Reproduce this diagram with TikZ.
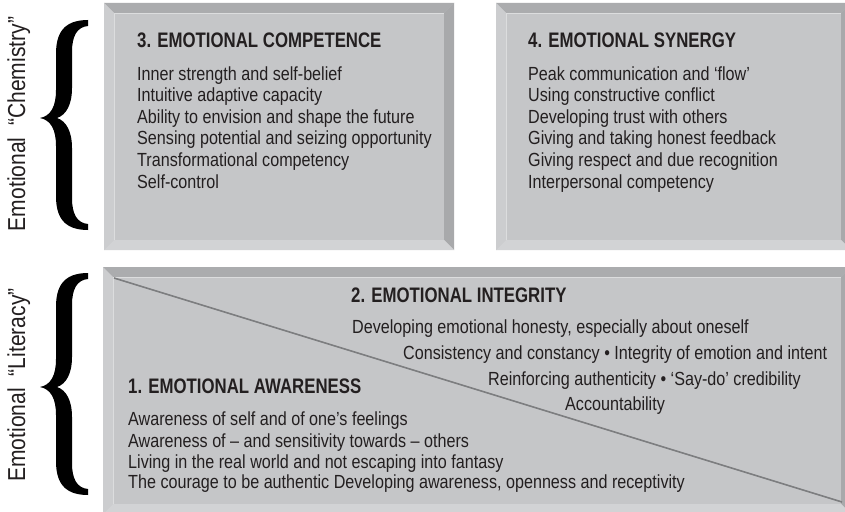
\documentclass[tikz,border=0pt]{standalone}
\usepackage{fontspec}
\setmainfont{Liberation Sans}[FakeStretch=0.85]
\newfontfamily\titlefont{Liberation Sans}[FakeStretch=0.8]
\newfontfamily\sidefont{Liberation Sans}[FakeStretch=0.86]
\definecolor{face}{RGB}{197,198,200}
\definecolor{bevtop}{RGB}{171,172,174}
\definecolor{bevleft}{RGB}{204,205,207}
\definecolor{bevright}{RGB}{168,169,171}
\definecolor{bevbot}{RGB}{210,211,213}
\definecolor{ink}{RGB}{35,31,32}
\definecolor{diag}{RGB}{125,126,128}
\newcommand\bevbox[5]{%
 \fill[face] (#1,#2) rectangle (#3,#4);
 \fill[bevtop] (#1,#2) -- (#3,#2) -- (#3-#5,#2+#5) -- (#1+#5,#2+#5) -- cycle;
 \fill[bevleft] (#1,#2) -- (#1+#5,#2+#5) -- (#1+#5,#4-#5) -- (#1,#4) -- cycle;
 \fill[bevright] (#3,#2) -- (#3-#5,#2+#5) -- (#3-#5,#4-#5) -- (#3,#4) -- cycle;
 \fill[bevbot] (#1,#4) -- (#1+#5,#4-#5) -- (#3-#5,#4-#5) -- (#3,#4) -- cycle;
 \draw[white!40!face, line width=0.7] (#1+#5,#4-#5) -- (#1+#5,#2+#5) -- (#3-#5,#2+#5);
}
\newcommand\mybrace[3]{%
 \fill[black] (88,#1) .. controls (63,#1) and (56,#1+14) .. (56,#1+34)
  -- (56,#2-28) .. controls (56,#2-12) and (51,#2-2) .. (40,#2)
  .. controls (51,#2+2) and (56,#2+12) .. (56,#2+28)
  -- (56,#3-34) .. controls (56,#3-14) and (63,#3) .. (88,#3)
  -- (88,#3-6) .. controls (77,#3-7) and (72,#3-16) .. (72,#3-32)
  -- (72,#2+30) .. controls (72,#2+13) and (66,#2+3) .. (57,#2)
  .. controls (66,#2-3) and (72,#2-13) .. (72,#2-30)
  -- (72,#1+32) .. controls (72,#1+16) and (77,#1+7) .. (88,#1+6) -- cycle;
}
\begin{document}
\begin{tikzpicture}[x=1pt,y=-1pt,
  txt/.style={font=\fontsize{19}{21}\selectfont, text=ink, inner sep=0, anchor=base west},
  ttl/.style={font=\titlefont\bfseries\fontsize{21}{23}\selectfont, text=ink, inner sep=0, anchor=base west},
  side/.style={font=\sidefont\fontsize{24.5}{26}\selectfont, text=ink, inner sep=0, anchor=base, rotate=90}]
\useasboundingbox (0,0) rectangle (845,511);
\fill[white] (0,0) rectangle (845,511);
% boxes
\bevbox{104}{3}{454}{250}{10}
\bevbox{496}{3}{851}{250}{10}
\bevbox{103}{267}{851}{514}{10}
% diagonal
\coordinate (d1) at (114,278);
\coordinate (d2) at (842,502);
\draw[diag, line width=1.6] (d1) -- (d2);
% braces and side labels
\mybrace{20}{118}{230}
\mybrace{273}{387}{495}
\node[side] (chem) at (25,124) {Emotional \ “Chemistry”};
\node[side] (lit) at (25,385) {Emotional \ “Literacy”};
% box 3
\node[ttl] (t3) at (137,48) {3. EMOTIONAL COMPETENCE};
\node[txt] (c1) at (137,80) {Inner strength and self-belief};
\node[txt] (c2) at (137,101.6) {Intuitive adaptive capacity};
\node[txt] (c3) at (137,123.2) {Ability to envision and shape the future};
\node[txt] (c4) at (137,144.8) {Sensing potential and seizing opportunity};
\node[txt] (c5) at (137,166.4) {Transformational competency};
\node[txt] (c6) at (137,188) {Self-control};
% box 4
\node[ttl] (t4) at (528,48) {4. EMOTIONAL SYNERGY};
\node[txt] (s1) at (528,80) {Peak communication and ‘flow’};
\node[txt] (s2) at (528,101.6) {Using constructive conflict};
\node[txt] (s3) at (528,123.2) {Developing trust with others};
\node[txt] (s4) at (528,144.8) {Giving and taking honest feedback};
\node[txt] (s5) at (528,166.4) {Giving respect and due recognition};
\node[txt] (s6) at (528,188) {Interpersonal competency};
% box 2
\node[ttl] (t2) at (351,302) {2. EMOTIONAL INTEGRITY};
\node[txt] (i1) at (352,333) {Developing emotional honesty, especially about oneself};
\node[txt] (i2) at (403,359) {Consistency and constancy • Integrity of emotion and intent};
\node[txt] (i3) at (488,385) {Reinforcing authenticity • ‘Say-do’ credibility};
\node[txt] (i4) at (565,410) {Accountability};
% box 1
\node[ttl] (t1) at (128,393) {1. EMOTIONAL AWARENESS};
\node[txt] (a1) at (128,425) {Awareness of self and of one’s feelings};
\node[txt] (a2) at (128,447) {Awareness of – and sensitivity towards – others};
\node[txt] (a3) at (128,468) {Living in the real world and not escaping into fantasy};
\node[txt] (a4) at (128,488) {The courage to be authentic Developing awareness, openness and receptivity};
\end{tikzpicture}
\end{document}
